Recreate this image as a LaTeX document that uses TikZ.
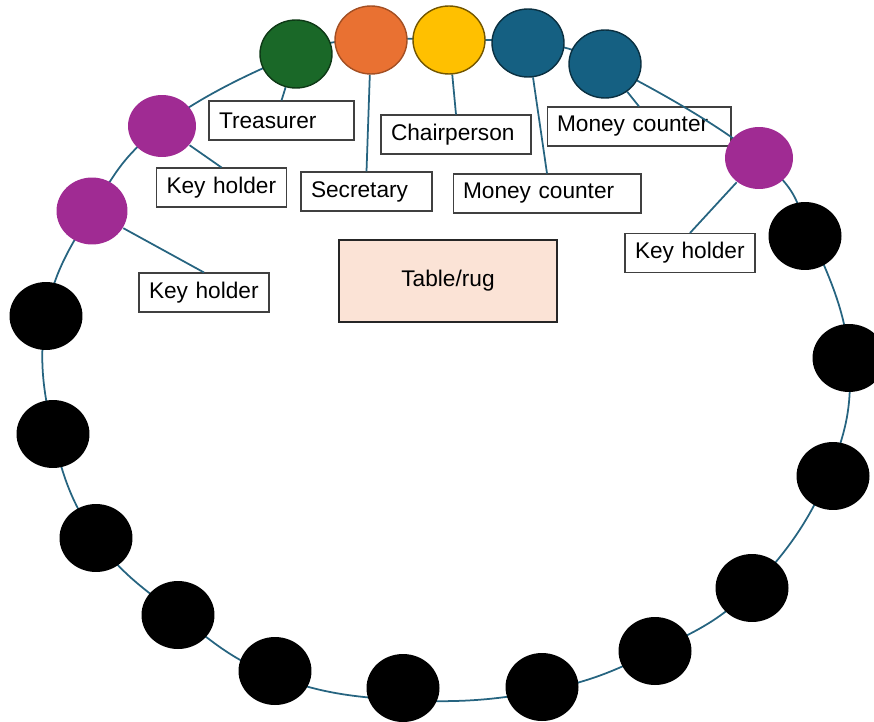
\documentclass[tikz,border=0pt]{standalone}
\usepackage{fontspec}
\setmainfont{Liberation Sans}
\usetikzlibrary{shapes.geometric,backgrounds}
\definecolor{ringblue}{RGB}{38,100,128}
\definecolor{seatgreen}{RGB}{26,104,40}
\definecolor{seatorange}{RGB}{233,113,50}
\definecolor{seatyellow}{RGB}{255,192,0}
\definecolor{seatblue}{RGB}{21,96,130}
\definecolor{seatpurple}{RGB}{160,43,147}
\definecolor{rugfill}{RGB}{251,227,214}
\tikzstyle{seat} = [ellipse, inner sep=0pt, minimum width=1.44cm, minimum height=1.36cm, line width=0.8pt]
\tikzstyle{member} = [seat, fill=black, minimum width=1.46cm]
\tikzstyle{keyseat} = [seat, fill=seatpurple, minimum width=1.36cm, minimum height=1.24cm]
\tikzstyle{role} = [draw=black!75, fill=white, line width=0.6pt, minimum height=0.78cm, inner xsep=0.2cm, align=left, font=\fontsize{12.9}{14}\selectfont]
\tikzstyle{link} = [line width=1pt, color=ringblue]

\begin{document}
\begin{tikzpicture}[x=0.02cm, y=-0.02cm]
\useasboundingbox (0,0) rectangle (874,722);

\node[seat, fill=seatgreen, draw=seatgreen!55!black] (treas) at (296,54) {};
\node[seat, fill=seatorange, draw=seatorange!70!black] (sec) at (371,40) {};
\node[seat, fill=seatyellow, draw=seatyellow!45!black] (chair) at (449,40) {};
\node[seat, fill=seatblue, draw=seatblue!50!black] (moneyA) at (528,43) {};
\node[seat, fill=seatblue, draw=seatblue!50!black] (moneyB) at (605,64) {};
\node[keyseat] (keyC) at (759,158) {};
\node[keyseat] (keyA) at (162,126) {};
\node[keyseat, minimum width=1.42cm, minimum height=1.34cm] (keyB) at (92,211) {};
\foreach \p [count=\i] in {(805,236),(849,358),(833,476),(752,588),(655,651),(542,687),(403,688),(275,671),(178,615),(96,538),(53,434),(46,316)}
  \node[member] (m\i) at \p {};

\node[draw=black!85, fill=rugfill, line width=0.9pt, minimum width=4.36cm, minimum height=1.64cm, font=\fontsize{12.9}{14}\selectfont] (rug) at (448,281) {Table/rug};

\begin{pgfonlayer}{background}
\node[role, text width=2.5cm] (lTreas) at (281.5,120.5) {Treasurer};
\node[role, text width=2.2cm] (lKeyA) at (221.5,187.5) {Key holder};
\node[role, text width=2.2cm] (lKeyB) at (204,292.5) {Key holder};
\node[role, text width=2.22cm] (lSec) at (366.5,191.5) {Secretary};
\node[role, text width=2.6cm] (lChair) at (456,134.5) {Chairperson};
\node[role, text width=3.28cm] (lMoneyB) at (639,126.5) {Money counter};
\node[role, text width=3.36cm] (lMoneyA) at (547,193.5) {Money counter};
\node[role, text width=2.2cm] (lKeyC) at (690,253) {Key holder};

\draw[link] plot[smooth cycle, tension=0.7] coordinates {(treas) (sec) (chair) (moneyA) (moneyB) (keyC) ([xshift=0.12cm]m1) (m2) ([xshift=-0.1cm]m3) (m4) (m5) ([yshift=-0.08cm]m6) ([yshift=-0.24cm]m7) ([yshift=-0.1cm]m8) (m9) (m10) (m11) (m12) (keyB) (keyA)};

\draw[link] (lTreas.north) -- (treas);
\draw[link] (lKeyA.north) -- (keyA);
\draw[link] (lKeyB.north) -- (keyB);
\draw[link] (lSec.north) -- (sec);
\draw[link] (lChair.north) -- (chair);
\draw[link] (lMoneyA.north) -- (moneyA);
\draw[link] (lMoneyB.north) -- (moneyB);
\draw[link] (lKeyC.north) -- (keyC);
\end{pgfonlayer}
\end{tikzpicture}
\end{document}
